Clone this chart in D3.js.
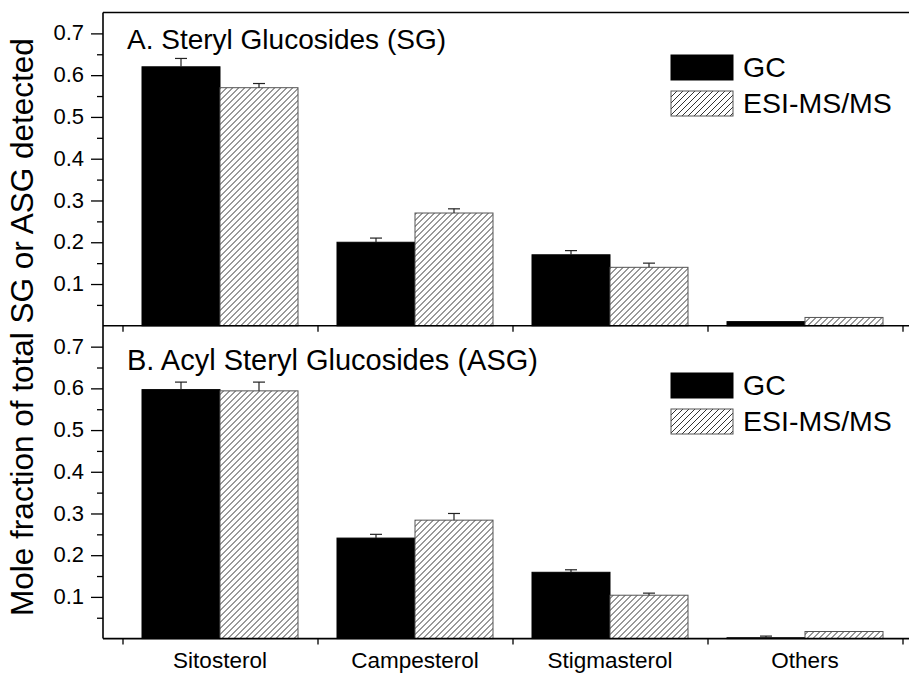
<!DOCTYPE html>
<html>
<head>
<meta charset="utf-8">
<script src="https://cdn.jsdelivr.net/npm/d3@7"></script>
<style>
  html, body { margin: 0; padding: 0; background: #fff; }
  svg { display: block; font-family: "Liberation Sans", Arial, sans-serif; }
</style>
</head>
<body>
<svg id="chart" width="909" height="673"></svg>
<script>
// Sterol composition of SG and ASG, GC vs ESI-MS/MS
const categories = ["Sitosterol", "Campesterol", "Stigmasterol", "Others"];
const seriesNames = ["GC", "ESI-MS/MS"];

const sgGC      = [0.62, 0.20, 0.17, 0.01];
const sgGCErr   = [0.02, 0.01, 0.01, 0.0];
const sgESI     = [0.57, 0.27, 0.14, 0.02];
const sgESIErr  = [0.01, 0.01, 0.01, 0.0];

const asgGC     = [0.597, 0.241, 0.159, 0.002];
const asgGCErr  = [0.018, 0.009, 0.006, 0.004];
const asgESI    = [0.594, 0.284, 0.104, 0.017];
const asgESIErr = [0.021, 0.016, 0.005, 0.0];

const majorTicks = [0.1, 0.2, 0.3, 0.4, 0.5, 0.6, 0.7];
const minorTicks = [0.05, 0.15, 0.25, 0.35, 0.45, 0.55, 0.65];

const panelTitles = ["A. Steryl Glucosides (SG)", "B. Acyl Steryl Glucosides (ASG)"];
const yLabel = "Mole fraction of total SG or ASG detected";

const svg = d3.select("#chart");
const axisX = 103;
const plotRight = 909;

// hatch pattern for ESI-MS/MS bars
const defs = svg.append("defs");
const pat = defs.append("pattern")
  .attr("id", "hatch")
  .attr("patternUnits", "userSpaceOnUse")
  .attr("width", 6).attr("height", 6);
pat.append("rect").attr("width", 6).attr("height", 6).attr("fill", "#fff");
pat.append("path")
  .attr("d", "M-1,1 l2,-2 M0,6 l6,-6 M5,7 l2,-2")
  .attr("stroke", "#333").attr("stroke-width", 1);

// category bands, boundaries carry the ticks
const x = d3.scaleBand().domain(categories).range([122.5, 902.5]).paddingInner(0).paddingOuter(0);
const xSub = d3.scaleBand().domain(seriesNames).range([0, x.bandwidth()]).paddingInner(0).paddingOuter(0.25);
const xEdge = d3.scaleLinear().domain([0, categories.length]).range([122.5, 902.5]);

const panels = [
  { top: 12.5, bottom: 325.8, gc: sgGC, gcErr: sgGCErr, esi: sgESI, esiErr: sgESIErr,
    title: panelTitles[0], titleY: 49, titleSize: 28, legendY: 55 },
  { top: 325.8, bottom: 638.6, gc: asgGC, gcErr: asgGCErr, esi: asgESI, esiErr: asgESIErr,
    title: panelTitles[1], titleY: 370, titleSize: 29, legendY: 373 }
];

panels.forEach((p, pi) => {
  const y = d3.scaleLinear().domain([0, 0.75]).range([p.bottom, p.top]);
  const g = svg.append("g");

  const rows = categories.map((c, i) => ({
    cat: c,
    vals: [
      { s: seriesNames[0], v: p.gc[i], e: p.gcErr[i] },
      { s: seriesNames[1], v: p.esi[i], e: p.esiErr[i] }
    ]
  }));

  // bars
  const grp = g.selectAll("g.cat").data(rows).join("g")
    .attr("transform", d => `translate(${x(d.cat)},0)`);

  grp.selectAll("rect").data(d => d.vals).join("rect")
    .attr("x", d => xSub(d.s))
    .attr("width", xSub.bandwidth())
    .attr("y", d => y(d.v))
    .attr("height", d => y(0) - y(d.v))
    .attr("fill", d => d.s === "GC" ? "#000" : "url(#hatch)")
    .attr("stroke", d => d.s === "GC" ? "#000" : "#555")
    .attr("stroke-width", 1);

  // upper error bars
  const eb = grp.selectAll("g.err").data(d => d.vals.filter(v => v.e > 0)).join("g")
    .attr("class", "err")
    .attr("stroke", "#222").attr("stroke-width", 1.2);
  eb.append("line")
    .attr("x1", d => xSub(d.s) + xSub.bandwidth() / 2)
    .attr("x2", d => xSub(d.s) + xSub.bandwidth() / 2)
    .attr("y1", d => y(d.v))
    .attr("y2", d => y(d.v + d.e));
  eb.append("line")
    .attr("x1", d => xSub(d.s) + xSub.bandwidth() / 2 - 6)
    .attr("x2", d => xSub(d.s) + xSub.bandwidth() / 2 + 6)
    .attr("y1", d => y(d.v + d.e))
    .attr("y2", d => y(d.v + d.e));

  // y axis: major ticks with labels
  const yMajor = g.append("g").attr("transform", `translate(${axisX},0)`)
    .call(d3.axisLeft(y).tickValues(majorTicks).tickSize(12).tickPadding(7).tickFormat(d3.format(".1f")));
  yMajor.select(".domain").remove();
  yMajor.selectAll("line").attr("stroke", "#000").attr("stroke-width", 1.3);
  yMajor.selectAll("text")
    .attr("font-size", 22).attr("fill", "#000")
    .attr("font-family", "Liberation Sans, Arial, sans-serif")
    .attr("dy", "0.3em");

  // y axis: minor ticks
  const yMinor = g.append("g").attr("transform", `translate(${axisX},0)`)
    .call(d3.axisLeft(y).tickValues(minorTicks).tickSize(6).tickFormat(""));
  yMinor.select(".domain").remove();
  yMinor.selectAll("line").attr("stroke", "#000").attr("stroke-width", 1.3);

  // x axis: ticks at category boundaries
  const xTicks = g.append("g").attr("transform", `translate(0,${p.bottom})`)
    .call(d3.axisBottom(xEdge).tickValues(d3.range(categories.length + 1)).tickSize(6).tickFormat(""));
  xTicks.select(".domain").remove();
  xTicks.selectAll("line").attr("stroke", "#000").attr("stroke-width", 1.3);

  // bottom axis line of panel
  g.append("line")
    .attr("x1", axisX).attr("x2", plotRight)
    .attr("y1", p.bottom).attr("y2", p.bottom)
    .attr("stroke", "#000").attr("stroke-width", 1.6);

  // category labels on the lower panel only
  if (pi === panels.length - 1) {
    const xl = g.append("g").attr("transform", `translate(0,${p.bottom})`)
      .call(d3.axisBottom(x).tickSize(0).tickPadding(0));
    xl.select(".domain").remove();
    xl.selectAll("text")
      .attr("font-size", 22.5).attr("fill", "#000")
      .attr("font-family", "Liberation Sans, Arial, sans-serif")
      .attr("dy", null)
      .attr("y", 29);
  }

  // panel title
  g.append("text")
    .attr("x", 127).attr("y", p.titleY)
    .attr("font-size", p.titleSize).attr("fill", "#000")
    .text(p.title);

  // legend
  const lg = g.append("g").attr("transform", `translate(671,${p.legendY})`);
  seriesNames.forEach((s, i) => {
    lg.append("rect")
      .attr("x", 0).attr("y", i * 36)
      .attr("width", 62).attr("height", 25)
      .attr("fill", s === "GC" ? "#000" : "url(#hatch)")
      .attr("stroke", s === "GC" ? "#000" : "#555").attr("stroke-width", 1);
    lg.append("text")
      .attr("x", 72).attr("y", i * 36 + 22)
      .attr("font-size", 28.5).attr("fill", "#000")
      .text(s);
  });
});

// frame: left axis and top edge
svg.append("line")
  .attr("x1", axisX).attr("x2", axisX)
  .attr("y1", 12.5).attr("y2", 638.6)
  .attr("stroke", "#000").attr("stroke-width", 1.6);
svg.append("line")
  .attr("x1", axisX).attr("x2", plotRight)
  .attr("y1", 12.5).attr("y2", 12.5)
  .attr("stroke", "#000").attr("stroke-width", 1.6);

// shared y-axis title
svg.append("text")
  .attr("transform", "translate(33,327) rotate(-90)")
  .attr("text-anchor", "middle")
  .attr("font-size", 31.5).attr("fill", "#000")
  .text(yLabel);
</script>
</body>
</html>
